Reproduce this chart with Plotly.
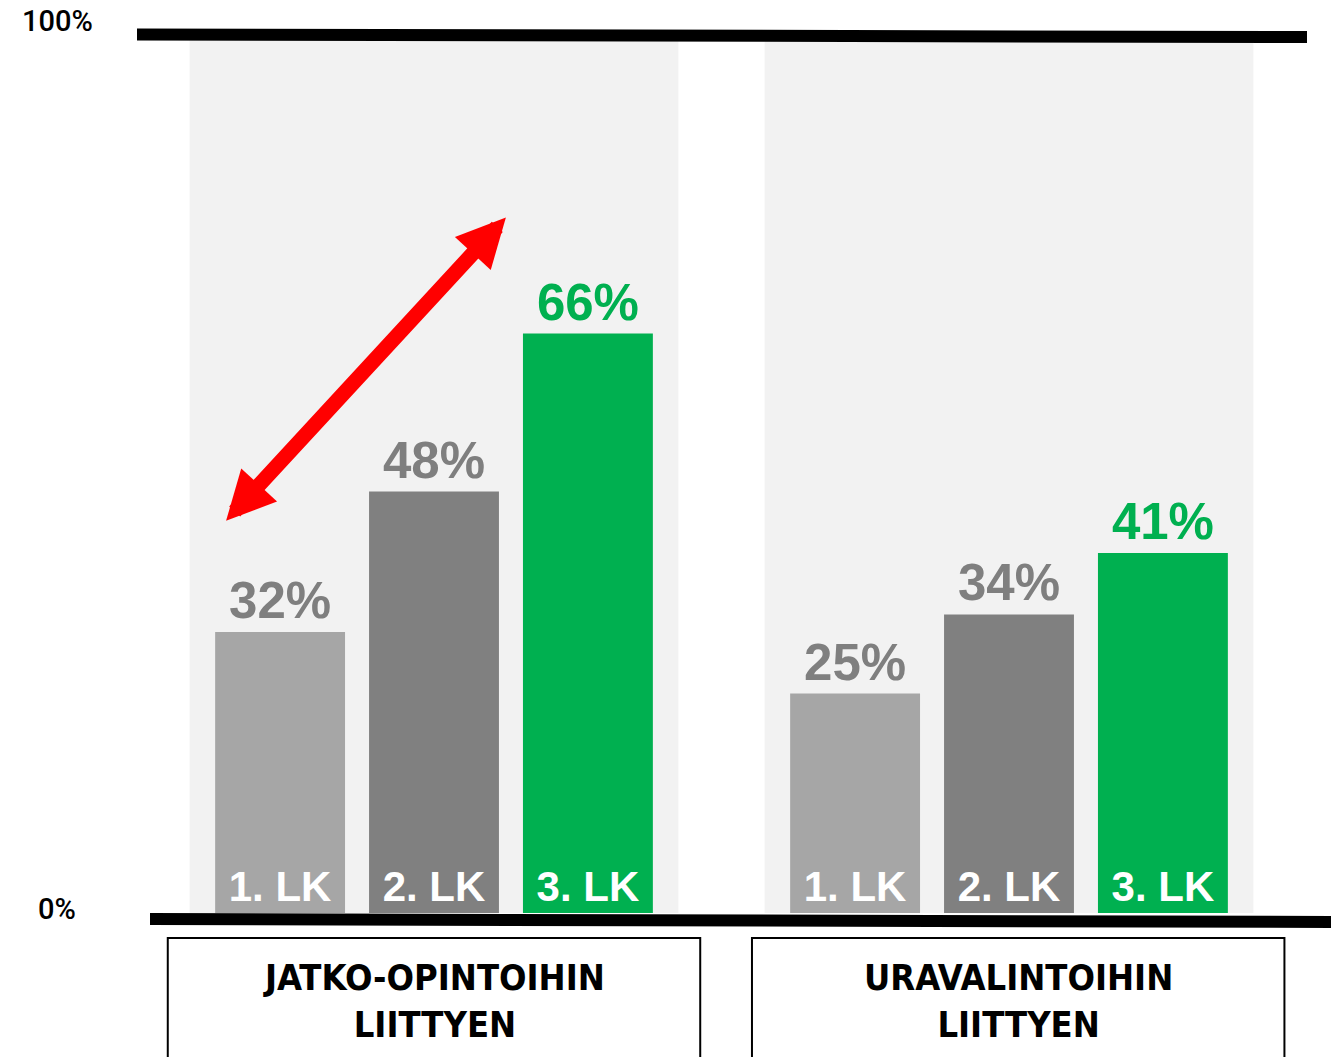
import plotly.graph_objects as go

# --- Data ---
groups = ["JATKO-OPINTOIHIN<br>LIITTYEN", "URAVALINTOIHIN<br>LIITTYEN"]
classes = ["1. LK", "2. LK", "3. LK"]
values = {
    "1. LK": [32, 25],
    "2. LK": [48, 34],
    "3. LK": [66, 41],
}
bar_colors = {"1. LK": "#a6a6a6", "2. LK": "#808080", "3. LK": "#00b050"}
label_colors = {"1. LK": "#7f7f7f", "2. LK": "#7f7f7f", "3. LK": "#00b050"}
axis_labels = ["0%", "100%"]

W, H = 1331, 1057

fig = go.Figure()

# bars with class label inside at the base
for i, cls in enumerate(classes):
    fig.add_trace(
        go.Bar(
            x=groups,
            y=values[cls],
            name=cls,
            offsetgroup=str(i),
            marker=dict(color=bar_colors[cls], line=dict(width=0)),
            text=[cls] * len(groups),
            textposition="inside",
            insidetextanchor="start",
            insidetextfont=dict(family="Liberation Sans", size=42, color="white", weight="bold"),
            constraintext="none",
            hoverinfo="skip",
        )
    )

# transparent copies carrying the value labels on top
for i, cls in enumerate(classes):
    fig.add_trace(
        go.Bar(
            x=groups,
            y=values[cls],
            offsetgroup=str(i),
            marker=dict(color="rgba(0,0,0,0)", line=dict(width=0)),
            text=[f"{v}%" for v in values[cls]],
            textposition="outside",
            outsidetextfont=dict(family="Liberation Sans", size=51, color=label_colors[cls], weight="bold"),
            constraintext="none",
            cliponaxis=False,
            hoverinfo="skip",
            showlegend=False,
        )
    )

for k, g in enumerate(groups):
    # grey panel behind each group
    fig.add_shape(
        type="rect", xref="x", yref="y",
        x0=k - 0.425, x1=k + 0.425, y0=0, y1=100,
        fillcolor="#f2f2f2", line=dict(width=0), layer="below",
    )
    # box with the group name
    c = k * 1.016
    fig.add_shape(
        type="rect", xref="x", yref="paper",
        x0=c - 0.463, x1=c + 0.463, y0=-0.02, y1=0.1125,
        fillcolor="rgba(0,0,0,0)", line=dict(color="black", width=2),
    )
    fig.add_annotation(
        x=c, y=(H - 1001) / H, xref="x", yref="paper", text=g,
        showarrow=False, xanchor="center", yanchor="middle",
        font=dict(family="DejaVu Sans Condensed", size=36, color="black", weight="bold"),
    )

# thick 100% and 0% lines
fig.add_shape(type="line", xref="paper", yref="paper", x0=137 / W, x1=1307 / W,
              y0=(H - 34.5) / H, y1=(H - 37) / H, line=dict(color="black", width=12))
fig.add_shape(type="line", xref="paper", yref="paper", x0=150 / W, x1=1.0,
              y0=(H - 919) / H, y1=(H - 922) / H, line=dict(color="black", width=12))

# axis end labels
fig.add_annotation(x=57 / W, y=100, xref="paper", yref="y", text=axis_labels[1],
                   showarrow=False, xanchor="center", yshift=14,
                   font=dict(family="Roboto", size=29, color="black", weight=500))
fig.add_annotation(x=57 / W, y=0, xref="paper", yref="y", text=axis_labels[0],
                   showarrow=False, xanchor="center", yshift=4,
                   font=dict(family="Roboto", size=29, color="black", weight=500))

# red double arrow
fig.add_annotation(
    x=0.125, y=79.2, xref="x", yref="y",
    ax=-0.364, ay=44.5, axref="x", ayref="y",
    text="", showarrow=True, arrowside="end+start",
    arrowhead=2, arrowsize=0.65, arrowwidth=15, arrowcolor="#ff0000",
)

fig.update_layout(
    width=W,
    height=H,
    margin=dict(l=0, r=0, t=0, b=0),
    barmode="group",
    bargap=0.197,
    bargroupgap=0.156,
    showlegend=False,
    plot_bgcolor="white",
    paper_bgcolor="white",
)
fig.update_xaxes(
    domain=[146.5 / W, 1296.5 / W],
    showgrid=False, showline=False, zeroline=False, ticks="",
    showticklabels=False,
)
fig.update_yaxes(
    domain=[(H - 913) / H, (H - 35) / H],
    range=[0, 100],
    showgrid=False, showline=False, zeroline=False, showticklabels=False,
)

fig.write_html("out.html", config={"displayModeBar": False},
               post_script="document.body.style.margin='0';")
